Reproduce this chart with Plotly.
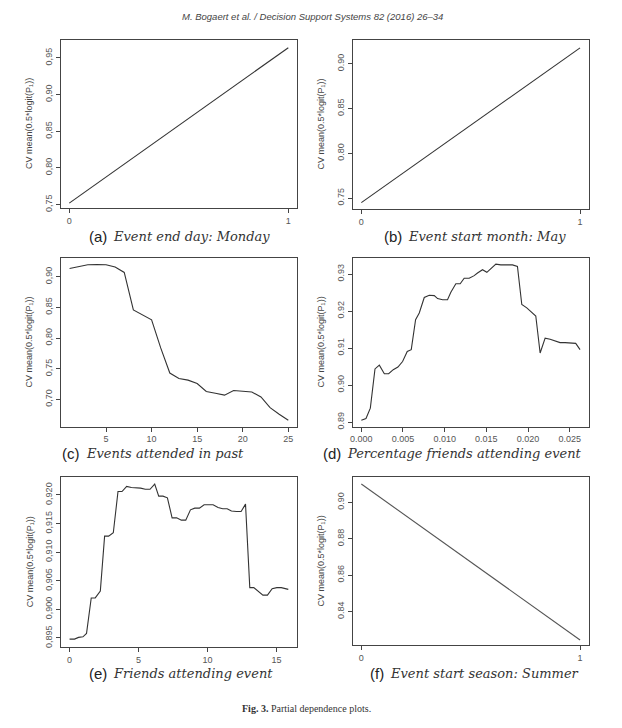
import plotly.graph_objects as go

W, H = 622, 728

# ---------------- data ----------------
a_x = [0, 1]
a_y = [0.752, 0.964]

b_x = [0, 1]
b_y = [0.745, 0.918]

c_x = list(range(1, 26))
c_y = [0.9135, 0.9162, 0.9195, 0.9200, 0.9195, 0.9160, 0.9070, 0.8460, 0.8380,
       0.8297, 0.7840, 0.7430, 0.7340, 0.7314, 0.7260, 0.7130, 0.7100, 0.7070,
       0.7146, 0.7135, 0.7120, 0.7040, 0.6865, 0.6757, 0.6660]

d_x = [0.00000, 0.00056, 0.00108, 0.00164, 0.00216, 0.00276, 0.00328, 0.00383,
       0.00439, 0.00495, 0.00551, 0.00599, 0.00651, 0.00695, 0.00755, 0.00815,
       0.00875, 0.00915, 0.00975, 0.01034, 0.01074, 0.01134, 0.01186, 0.01234,
       0.01294, 0.01354, 0.01394, 0.01454, 0.01506, 0.01554, 0.01614, 0.01673,
       0.01733, 0.01813, 0.01873, 0.01925, 0.01985, 0.02033, 0.02093, 0.02145,
       0.02205, 0.02265, 0.02325, 0.02384, 0.02444, 0.02504, 0.02572, 0.02624]
d_y = [0.8905, 0.8910, 0.8938, 0.9044, 0.9054, 0.9031, 0.9031, 0.9042,
       0.9049, 0.9064, 0.9091, 0.9096, 0.9177, 0.9195, 0.9237, 0.9243,
       0.9242, 0.9234, 0.9231, 0.9231, 0.9251, 0.9274, 0.9274, 0.9289,
       0.9289, 0.9296, 0.9303, 0.9312, 0.9305, 0.9314, 0.9327, 0.9325,
       0.9325, 0.9325, 0.9321, 0.9218, 0.9209, 0.9200, 0.9187, 0.9087,
       0.9127, 0.9124, 0.9120, 0.9115, 0.9115, 0.9115, 0.9113, 0.9096]

e_x = [0.00, 0.36, 0.65, 0.97, 1.23, 1.57, 1.86, 2.23, 2.54, 2.83, 3.17, 3.51,
       3.80, 4.14, 4.48, 4.84, 5.15, 5.49, 5.83, 6.17, 6.46, 6.77, 7.09, 7.43,
       7.76, 8.10, 8.42, 8.76, 9.07, 9.41, 9.75, 10.09, 10.40, 10.76, 11.10,
       11.42, 11.73, 12.09, 12.43, 12.75, 13.06, 13.35, 13.72, 14.01, 14.34,
       14.68, 15.02, 15.34, 15.85]
e_y = [0.8948, 0.8948, 0.8951, 0.8952, 0.8958, 0.9020, 0.9020, 0.9032, 0.9128,
       0.9128, 0.9134, 0.9206, 0.9206, 0.9215, 0.9213, 0.9213, 0.9212, 0.9210,
       0.9210, 0.9219, 0.9198, 0.9198, 0.9195, 0.9160, 0.9160, 0.9156, 0.9156,
       0.9174, 0.9177, 0.9177, 0.9183, 0.9183, 0.9183, 0.9178, 0.9176, 0.9176,
       0.9172, 0.9171, 0.9171, 0.9184, 0.9038, 0.9038, 0.9031, 0.9025, 0.9025,
       0.9036, 0.9038, 0.9038, 0.9035]

f_x = [0, 1]
f_y = [0.910, 0.8245]

a_yticks = [0.75, 0.80, 0.85, 0.90, 0.95]
a_ylabels = ["0,75", "0,80", "0,85", "0,90", "0,95"]
b_yticks = [0.75, 0.80, 0.85, 0.90]
b_ylabels = ["0.75", "0.80", "0.85", "0.90"]
c_yticks = [0.70, 0.75, 0.80, 0.85, 0.90]
c_ylabels = ["0,70", "0,75", "0,80", "0,85", "0,90"]
d_yticks = [0.89, 0.90, 0.91, 0.92, 0.93]
d_ylabels = ["0.89", "0.90", "0.91", "0.92", "0.93"]
e_yticks = [0.895, 0.900, 0.905, 0.910, 0.915, 0.920]
e_ylabels = ["0,895", "0,900", "0,905", "0,910", "0,915", "0,920"]
f_yticks = [0.84, 0.86, 0.88, 0.90]
f_ylabels = ["0.84", "0.86", "0.88", "0.90"]

bin_xticks = [0, 1]
c_xticks = [5, 10, 15, 20, 25]
d_xticks = [0.000, 0.005, 0.010, 0.015, 0.020, 0.025]
d_xlabels = ["0.000", "0.005", "0.010", "0.015", "0.020", "0.025"]
e_xticks = [0, 5, 10, 15]

captions = [("(a)", "Event end day: Monday"),
            ("(b)", "Event start month: May"),
            ("(c)", "Events attended in past"),
            ("(d)", "Percentage friends attending event"),
            ("(e)", "Friends attending event"),
            ("(f)", "Event start season: Summer")]

header = "M. Bogaert et al. / Decision Support Systems 82 (2016) 26–34"
ytitle = "CV mean(0.5*logit(P\u2081))"

# ---------------- layout helpers ----------------
def px_x(p):
    return p / W

def px_y(p):
    return 1 - p / H

# panel boxes in pixels: (left, right, top, bottom)
boxes = [(58.7, 296, 40, 209), (351.7, 588.7, 40, 210),
         (59, 296, 259, 429), (351.7, 588.7, 259.3, 429),
         (59, 296, 479.3, 650.7), (351.7, 588.7, 479.7, 649)]

panels = [
    (a_x, a_y, [-0.04, 1.04], [0.7455, 0.9748], bin_xticks, None, a_yticks, a_ylabels, "#333"),
    (b_x, b_y, [-0.04, 1.04], [0.7381, 0.9270], bin_xticks, None, b_yticks, b_ylabels, "#333"),
    (c_x, c_y, [0.04, 25.96], [0.6556, 0.9313], c_xticks, None, c_yticks, c_ylabels, "#333"),
    (d_x, d_y, [-0.00105, 0.02729], [0.8888, 0.9344], d_xticks, d_xlabels, d_yticks, d_ylabels, "#333"),
    (e_x, e_y, [-0.634, 16.484], [0.8934, 0.9232], e_xticks, None, e_yticks, e_ylabels, "#333"),
    (f_x, f_y, [-0.04, 1.04], [0.8215, 0.9138], bin_xticks, None, f_yticks, f_ylabels, "#555"),
]

fig = go.Figure()
layout = dict(width=W, height=H, autosize=False,
              margin=dict(l=0, r=0, t=0, b=0),
              paper_bgcolor="white", plot_bgcolor="white",
              showlegend=False)
annotations = []
tickfont = dict(family="Liberation Sans, Arial, sans-serif", size=9, color="#555")

for i, (px, py, xr, yr, xt, xl, yt, yl, lc) in enumerate(panels):
    n = "" if i == 0 else str(i + 1)
    xa, ya = "x" + n, "y" + n
    fig.add_trace(go.Scatter(x=px, y=py, mode="lines", xaxis=xa, yaxis=ya,
                             line=dict(color=lc, width=1.1), hoverinfo="skip"))
    l, r, t, b = boxes[i]
    xaxis = dict(domain=[px_x(l), px_x(r)], range=xr, anchor=ya,
                 showgrid=False, zeroline=False, showline=True, mirror=True,
                 linecolor="#444", linewidth=1, ticks="outside", ticklen=4,
                 tickcolor="#444", tickwidth=1, tickvals=xt, tickfont=tickfont)
    if xl is not None:
        xaxis["ticktext"] = xl
    yaxis = dict(domain=[px_y(b), px_y(t)], range=yr, anchor=xa,
                 showgrid=False, zeroline=False, showline=True, mirror=True,
                 linecolor="#444", linewidth=1, ticks="outside", ticklen=4,
                 tickcolor="#444", tickwidth=1, tickvals=yt, ticktext=yl,
                 tickangle=-90, tickfont=tickfont)
    layout["xaxis" + n] = xaxis
    layout["yaxis" + n] = yaxis

    # y-axis title
    annotations.append(dict(text=ytitle, xref="paper", yref="paper",
                            x=px_x(l - 31.5), y=px_y((t + b) / 2),
                            xanchor="center", yanchor="middle", textangle=-90,
                            showarrow=False,
                            font=dict(family="Liberation Sans, Arial, sans-serif",
                                      size=9, color="#444")))

# captions
cap_pos = [(107.5, 237.5), (403.5, 237.5), (80.0, 456.5), (342.5, 456.5),
           (107.5, 677.3), (385.5, 677.3)]
for (lab, txt), (cx, cy) in zip(captions, cap_pos):
    annotations.append(dict(text=lab, xref="paper", yref="paper",
                            x=px_x(cx), y=px_y(cy), xanchor="right", yanchor="middle",
                            showarrow=False,
                            font=dict(family="Liberation Sans, Arial, sans-serif",
                                      size=15, color="#222")))
    annotations.append(dict(text="<i>" + txt + "</i>", xref="paper", yref="paper",
                            x=px_x(cx + 2), y=px_y(cy), xanchor="left", yanchor="middle",
                            showarrow=False,
                            font=dict(family="DejaVu Serif, serif", size=13, color="#333")))

annotations.append(dict(text="<i>" + header + "</i>", xref="paper", yref="paper",
                        x=0.5, y=px_y(17), xanchor="center", yanchor="middle",
                        showarrow=False,
                        font=dict(family="Liberation Sans, Arial, sans-serif", size=9.5,
                                  color="#444")))
annotations.append(dict(text="<b>Fig. 3.</b> Partial dependence plots.", xref="paper",
                        yref="paper", x=px_x(305), y=px_y(712), xanchor="center",
                        yanchor="middle", showarrow=False,
                        font=dict(family="Liberation Serif, serif", size=10, color="#333")))

layout["annotations"] = annotations
fig.update_layout(**layout)
fig.write_html("out.html", config={"displayModeBar": False, "staticPlot": True},
               post_script="document.body.style.margin='0';document.body.style.overflow='hidden';")
